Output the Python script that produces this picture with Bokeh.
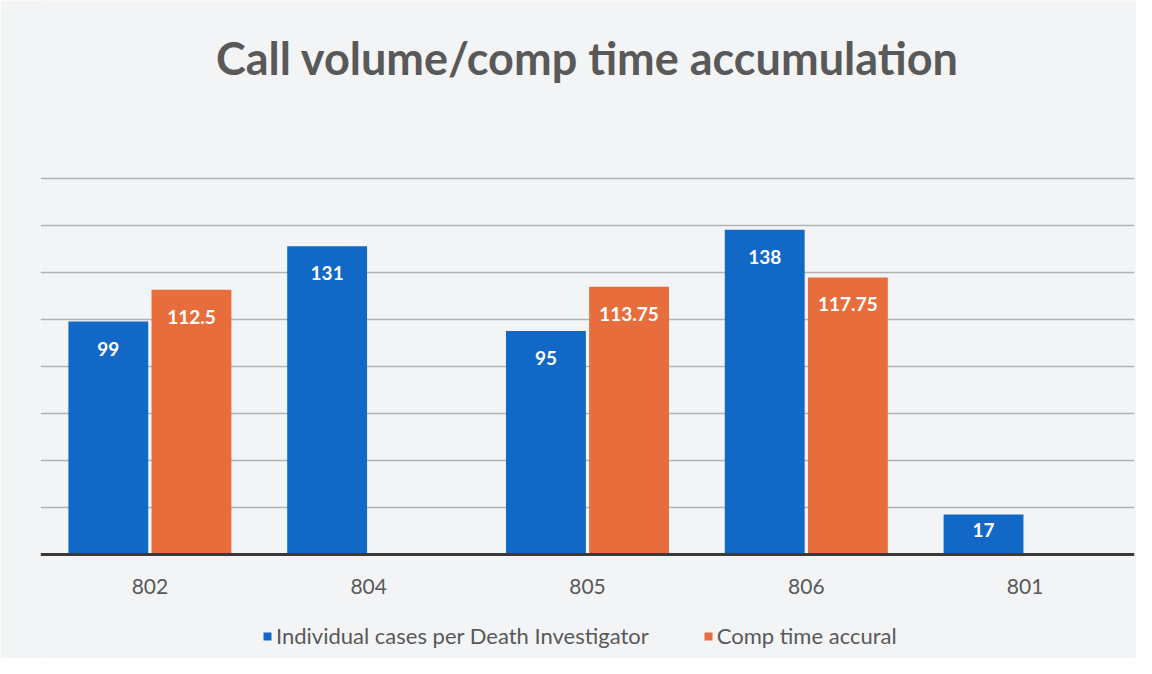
from bokeh.plotting import figure
from bokeh.models import ColumnDataSource, Legend, LegendItem, LabelSet, Label, FixedTicker
from bokeh.core.properties import value
from bokeh.transform import dodge
from bokeh.embed import file_html
from bokeh.resources import INLINE

categories = ["802", "804", "805", "806", "801"]
cases = [99, 131, 95, 138, 17]
comp_time = [112.5, None, 113.75, 117.75, None]
series_names = ["Individual cases per Death Investigator", "Comp time accural"]
grid_values = [20, 40, 60, 80, 100, 120, 140, 160]
title_text = "Call volume/comp time accumulation"

BLUE = "#1268c6"
ORANGE = "#e76e3c"
GRAY_TEXT = "#595959"
BG = "#f3f4f6"
FONT = "Lato"

W, H = 1136, 658
LEFT, RIGHT = 40, 2
BASE_PX = 554          # baseline position from top (px)
PX_PER_UNIT = 2.353

def fmt(v):
    return "" if v is None else f"{v:g}"

def lab_off(v):
    return -min(27.0, v * PX_PER_UNIT * 0.4)

src_a = ColumnDataSource(dict(cat=categories, val=cases, lab=[fmt(v) for v in cases],
                              off=[lab_off(v) for v in cases]))
b_cats = [c for c, v in zip(categories, comp_time) if v is not None]
b_vals = [v for v in comp_time if v is not None]
src_b = ColumnDataSource(dict(cat=b_cats, val=b_vals, lab=[fmt(v) for v in b_vals],
                              off=[lab_off(v) for v in b_vals]))

y_end = BASE_PX / PX_PER_UNIT
y_start = -(H - BASE_PX) / PX_PER_UNIT

p = figure(x_range=categories, y_range=(y_start, y_end), width=W, height=H,
           output_backend="svg", toolbar_location=None, title=None,
           min_border_left=LEFT, min_border_right=RIGHT, min_border_top=0, min_border_bottom=0)
p.background_fill_color = BG
p.border_fill_color = BG
p.outline_line_color = None

off = 0.19
w = 0.365
r1 = p.vbar(x=dodge("cat", -off, range=p.x_range), top="val", bottom=0, width=w, source=src_a,
            fill_color=BLUE, line_color=None)
r2 = p.vbar(x=dodge("cat", off, range=p.x_range), top="val", bottom=0, width=w, source=src_b,
            fill_color=ORANGE, line_color=None)

for src, o in ((src_a, -off), (src_b, off)):
    ls = LabelSet(x=dodge("cat", o, range=p.x_range), y="val", text="lab", source=src,
                  y_offset="off", text_align="center", text_baseline="middle",
                  text_color="white", text_font=value(FONT), text_font_size="19px",
                  text_font_style="bold")
    p.add_layout(ls)

p.add_layout(Label(x=2.5, y=211, text=title_text, text_align="center", text_baseline="middle",
                   text_font=FONT, text_font_size="45px", text_font_style="bold",
                   text_color=GRAY_TEXT))

p.yaxis.visible = False
p.xgrid.grid_line_color = None
p.ygrid.ticker = FixedTicker(ticks=grid_values)
p.ygrid.grid_line_color = "#b0b2b4"
p.ygrid.grid_line_width = 1.5
p.ygrid.level = "underlay"

ax = p.xaxis[0]
ax.fixed_location = 0
ax.axis_line_color = "#3a3a3a"
ax.axis_line_width = 3
ax.major_tick_line_color = None
ax.minor_tick_line_color = None
ax.major_label_standoff = 18
ax.major_label_text_font = FONT
ax.major_label_text_font_size = "21px"
ax.major_label_text_color = GRAY_TEXT

legend = Legend(items=[LegendItem(label=series_names[0], renderers=[r1]),
                       LegendItem(label=series_names[1], renderers=[r2])],
                orientation="horizontal", location=(222, 9),
                glyph_width=10, glyph_height=10, label_standoff=4, spacing=54,
                padding=4, margin=0,
                label_text_font=FONT, label_text_font_size="22px",
                label_text_color=GRAY_TEXT,
                background_fill_alpha=0, border_line_color=None)
p.add_layout(legend, "center")

open("out.html", "w").write(file_html(p, INLINE))
